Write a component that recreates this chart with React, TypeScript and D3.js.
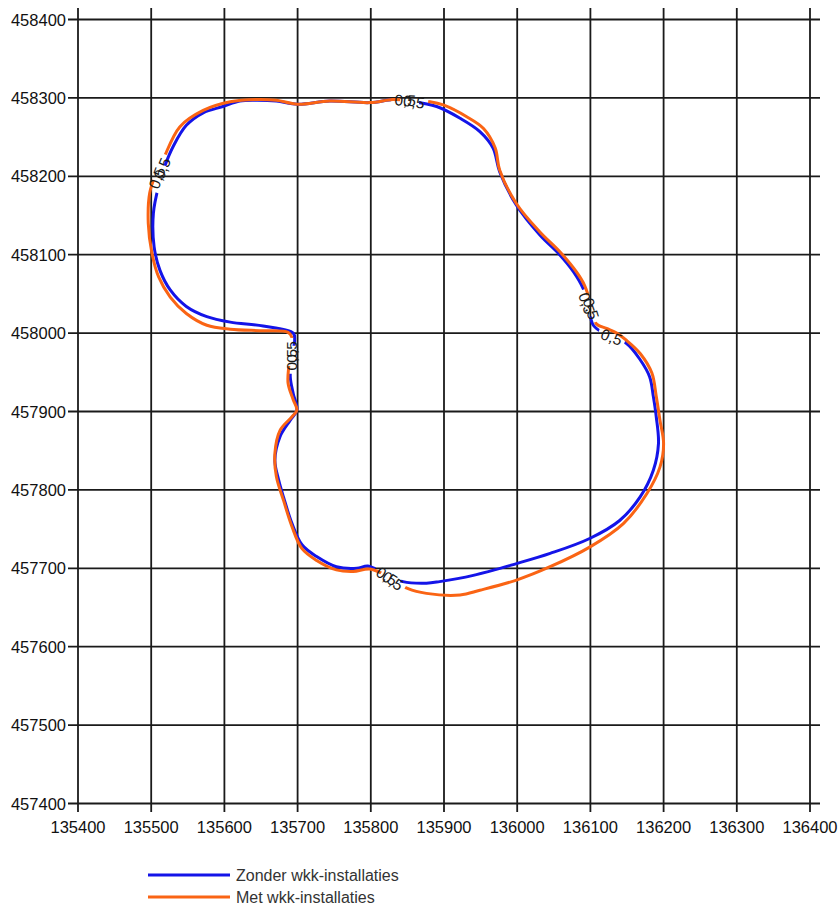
import React from "react";
import * as d3 from "d3";

// contour 0,5 in RD-coordinates
const xTicks = [135400, 135500, 135600, 135700, 135800, 135900, 136000, 136100, 136200, 136300, 136400];
const yTicks = [457400, 457500, 457600, 457700, 457800, 457900, 458000, 458100, 458200, 458300, 458400];

const zonderContour: [number, number][] = [
  [135890, 458289], [135922, 458274], [135949, 458257], [135967, 458236], [135976, 458206],
  [135999, 458163], [136031, 458125], [136058, 458100], [136077, 458078], [136090, 458057],
  [136097, 458036], [136104, 458010], [136120, 457999], [136149, 457987], [136168, 457966],
  [136181, 457944], [136186, 457919], [136190, 457893], [136193, 457859], [136186, 457825],
  [136168, 457791], [136140, 457761], [136099, 457738], [136045, 457719], [135999, 457706],
  [135940, 457691], [135894, 457683], [135876, 457681], [135844, 457683], [135819, 457693],
  [135796, 457703], [135781, 457700], [135753, 457702], [135726, 457715], [135706, 457730],
  [135692, 457758], [135681, 457790], [135674, 457813], [135669, 457838], [135676, 457868],
  [135690, 457889], [135699, 457902], [135694, 457923], [135690, 457944], [135692, 457968],
  [135696, 457991], [135694, 458000], [135653, 458009], [135608, 458014], [135576, 458021],
  [135548, 458034], [135526, 458055], [135512, 458080], [135504, 458110], [135503, 458153],
  [135510, 458187], [135519, 458214], [135530, 458238], [135548, 458265], [135571, 458281],
  [135598, 458289], [135621, 458296], [135644, 458297], [135671, 458296], [135700, 458292],
  [135744, 458296], [135799, 458294], [135831, 458298], [135853, 458296],
];

const metContour: [number, number][] = [
  [135881, 458295], [135899, 458291], [135931, 458276], [135954, 458261], [135970, 458236],
  [135976, 458208], [135999, 458165], [136031, 458129], [136058, 458104], [136081, 458078],
  [136092, 458061], [136101, 458036], [136108, 458012], [136122, 458006], [136136, 458000],
  [136149, 457991], [136168, 457974], [136184, 457949], [136190, 457919], [136195, 457889],
  [136200, 457859], [136195, 457829], [136177, 457795], [136145, 457757], [136099, 457727],
  [136045, 457702], [135999, 457685], [135949, 457672], [135922, 457666], [135876, 457668],
  [135851, 457674], [135826, 457688], [135799, 457699], [135776, 457696], [135753, 457698],
  [135726, 457710], [135706, 457725], [135692, 457754], [135681, 457786], [135671, 457817],
  [135669, 457847], [135676, 457876], [135692, 457893], [135699, 457902], [135694, 457915],
  [135687, 457936], [135688, 457959], [135690, 457983], [135692, 457995], [135687, 458001],
  [135653, 458003], [135608, 458005], [135576, 458010], [135548, 458025], [135526, 458046],
  [135510, 458072], [135501, 458102], [135496, 458140], [135498, 458179], [135506, 458202],
  [135516, 458221], [135539, 458263], [135571, 458284], [135608, 458295], [135644, 458298],
  [135671, 458297], [135700, 458292], [135744, 458296], [135799, 458294], [135830, 458298],
  [135853, 458297],
];

// label positions [x, y, angle]
const zonderLabels: [number, number, number][] = [
  [135847, 458297, 3], [135508, 458198, -70], [135692, 457966, -90],
  [136095, 458038, 70], [136129, 457995, 20], [135822, 457690, 33],
];
const metLabels: [number, number, number][] = [
  [135859, 458295, 8], [135515, 458210, -68], [135691, 457976, -90],
  [136101, 458031, 72], [135830, 457684, 33],
];

const contourLevel = "0,5";
const seriesNames = ["Zonder wkk-installaties", "Met wkk-installaties"];
const seriesColors = ["#1414e8", "#fa6414"];

const W = 840, H = 906;
const FONT = "'Liberation Sans', Arial, sans-serif";

export default function App() {
  const x = d3.scaleLinear().domain([135400, 136400]).range([78, 810]);
  const y = d3.scaleLinear().domain([457400, 458400]).range([803.5, 19.5]);

  const line = d3.line<[number, number]>()
    .x(d => x(d[0]))
    .y(d => y(d[1]))
    .curve(d3.curveCatmullRomClosed.alpha(0.5));

  const series = [
    { id: "zonder", pts: zonderContour, labels: zonderLabels, color: seriesColors[0] },
    { id: "met", pts: metContour, labels: metLabels, color: seriesColors[1] },
  ];

  return (
    <svg width={W} height={H} style={{ position: "absolute", left: 0, top: 0, background: "#fff" }}
      fontFamily={FONT}>
      <defs>
        {series.map(s => (
          <mask key={s.id} id={"mask-" + s.id} maskUnits="userSpaceOnUse" x={0} y={0} width={W} height={H}>
            <rect x={0} y={0} width={W} height={H} fill="#fff" />
            {s.labels.map((l, i) => (
              <rect key={i} x={-14} y={-7} width={28} height={14} fill="#000"
                transform={`translate(${x(l[0])},${y(l[1])}) rotate(${l[2]})`} />
            ))}
          </mask>
        ))}
      </defs>

      {/* grid */}
      <g stroke="#1a1a1a" strokeWidth={1.8}>
        {xTicks.map(t => (
          <line key={"vx" + t} x1={x(t)} x2={x(t)} y1={8} y2={812} />
        ))}
        {yTicks.map(t => (
          <line key={"hy" + t} x1={68} x2={820} y1={y(t)} y2={y(t)} />
        ))}
      </g>

      {/* tick labels */}
      <g fill="#111" fontSize={16.5}>
        {yTicks.map(t => (
          <text key={"ly" + t} x={66} y={y(t)} textAnchor="end" dominantBaseline="central">{t}</text>
        ))}
        {xTicks.map(t => (
          <text key={"lx" + t} x={x(t)} y={833} textAnchor="middle">{t}</text>
        ))}
      </g>

      {/* contours */}
      {series.map(s => (
        <path key={s.id} d={line(s.pts) || ""} fill="none" stroke={s.color} strokeWidth={3}
          strokeLinejoin="round" mask={`url(#mask-${s.id})`} />
      ))}

      {/* contour labels */}
      <g fill="#1a1a1a" fontSize={15.5}>
        {series.map(s => s.labels.map((l, i) => (
          <text key={s.id + i} textAnchor="middle" dominantBaseline="central"
            transform={`translate(${x(l[0])},${y(l[1])}) rotate(${l[2]})`}>{contourLevel}</text>
        )))}
      </g>

      {/* legend */}
      {seriesNames.map((name, i) => (
        <g key={name} transform={`translate(0,${875 + i * 22})`}>
          <line x1={148} x2={230} y1={0} y2={0} stroke={seriesColors[i]} strokeWidth={3} />
          <text x={236} y={0} dominantBaseline="central" fontSize={16} fill="#333">{name}</text>
        </g>
      ))}
    </svg>
  );
}
